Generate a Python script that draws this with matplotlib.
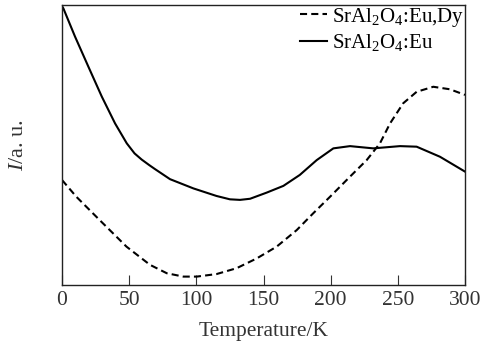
import numpy as np
import matplotlib
matplotlib.use('Agg')
import matplotlib.pyplot as plt

# ── data (arbitrary intensity units, 0..1 = axis) ──
T_eu = [0, 1, 9.7, 19.6, 29.6, 39.5, 48.2, 54, 59.3, 65, 69.2, 80.4, 97.8,
        115, 125, 132.5, 140, 152.4, 164.8, 177, 189.6, 202, 214.4, 231.7,
        251.6, 264, 281.4, 300]
I_eu = [0.996, 0.988, 0.887, 0.780, 0.673, 0.577, 0.506, 0.470, 0.448, 0.428,
        0.414, 0.378, 0.345, 0.318, 0.306, 0.304, 0.308, 0.330, 0.354, 0.393,
        0.446, 0.488, 0.496, 0.488, 0.496, 0.494, 0.458, 0.405]

T_dy = [0, 10.7, 28, 48, 65.5, 78, 90.3, 100.3, 115, 130, 145, 159.8, 174.7,
        187, 199.5, 214.4, 226.8, 236.7, 244.2, 254, 264, 276.4, 288.8, 300]
I_dy = [0.375, 0.315, 0.232, 0.137, 0.072, 0.042, 0.030, 0.030, 0.039, 0.060,
        0.095, 0.137, 0.196, 0.256, 0.315, 0.387, 0.446, 0.506, 0.577, 0.649,
        0.690, 0.708, 0.699, 0.679]

xticks = [0, 50, 100, 150, 200, 250, 300]

plt.rcParams.update({'font.family': 'Liberation Serif',
                     'mathtext.fontset': 'custom',
                     'mathtext.rm': 'Liberation Serif',
                     'mathtext.it': 'Liberation Serif:italic'})

fig = plt.figure(figsize=(4.83, 3.43), dpi=100)
ax = fig.add_axes([0.1284, 0.1691, 0.8343, 0.8163])

ax.plot(T_dy, I_dy, color='black', lw=1.5, ls=(0, (3.4, 2.0)),
        label=r'SrAl$_2$O$_4$:Eu,Dy')
ax.plot(T_eu, I_eu, color='black', lw=1.5, label=r'SrAl$_2$O$_4$:Eu')

ax.set_xlim(0, 300)
ax.set_ylim(0, 1)
ax.set_xticks(xticks)
ax.set_yticks([])
ax.tick_params(axis='x', direction='in', length=7, width=0.8,
               labelsize=15.5, colors='#333', pad=4)
for s in ax.spines.values():
    s.set_linewidth(1.0)
    s.set_color('#222')

ax.set_xlabel('Temperature/K', fontsize=15.5, color='#333', labelpad=9)
ax.set_ylabel(r'$I$/a. u.', fontsize=16, color='#333')
ax.yaxis.set_label_coords(-0.084, 0.5)

ax.legend(loc='upper right', bbox_to_anchor=(1.003, 1.005), frameon=False,
          fontsize=15, handlelength=1.3, handletextpad=0.25,
          labelspacing=0.15, borderaxespad=0, borderpad=0.1)

fig.savefig('out.png', dpi=100, facecolor='white')
